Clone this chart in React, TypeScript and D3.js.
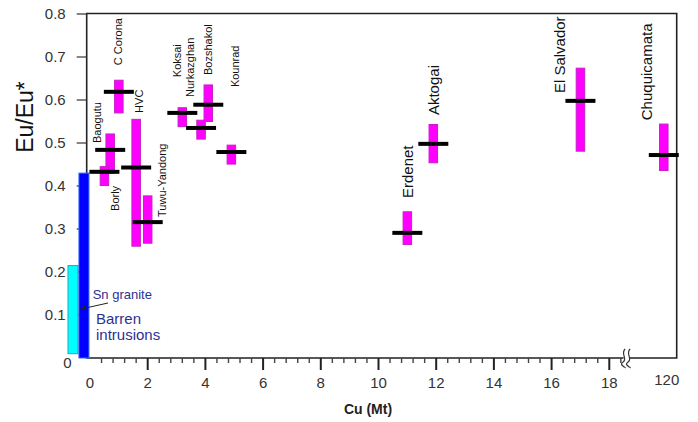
import * as d3 from "d3";

const deposits = ["Baogutu", "Borly", "C Corona", "HVC", "Tuwu-Yandong", "Koksai", "Nurkazghan", "Bozshakol", "Kounrad", "Erdenet", "Aktogai", "El Salvador", "Chuquicamata"];
const cuMt = [0.7, 0.5, 1.0, 1.6, 2.0, 3.2, 3.85, 4.1, 4.9, 11.0, 11.9, 17.0, 120];
const euMin = [0.43, 0.401, 0.57, 0.26, 0.267, 0.538, 0.509, 0.55, 0.451, 0.264, 0.454, 0.481, 0.436];
const euMax = [0.521, 0.445, 0.646, 0.555, 0.377, 0.582, 0.553, 0.635, 0.495, 0.34, 0.543, 0.674, 0.544];
const euMean = [0.484, 0.433, 0.619, 0.443, 0.316, 0.57, 0.535, 0.589, 0.479, 0.291, 0.498, 0.598, 0.472];

// barren intrusions drawn left of the axis
const refNames = ["Sn granite", "Barren intrusions"];
const refCu = [-0.59, -0.21];
const refMin = [0.01, 0];
const refMax = [0.215, 0.43];

const yTicks = [0.1, 0.2, 0.3, 0.4, 0.5, 0.6, 0.7, 0.8];
const xTicks = [0, 2, 4, 6, 8, 10, 12, 14, 16, 18];

// label placement: dx in px from the bar, bottom of the text at an Eu/Eu* level
const labelLayout = {
  "Baogutu": { dx: -13, at: 0.5, big: false },
  "Borly": { dx: 11, at: 0.342, big: false },
  "C Corona": { dx: -1, at: 0.681, big: false },
  "HVC": { dx: 3, at: 0.57, big: false },
  "Tuwu-Yandong": { dx: 14.5, at: 0.328, big: false },
  "Koksai": { dx: -5, at: 0.653, big: false },
  "Nurkazghan": { dx: -11, at: 0.607, big: false },
  "Bozshakol": { dx: 0, at: 0.658, big: false },
  "Kounrad": { dx: 4, at: 0.63, big: false },
  "Erdenet": { dx: 0, at: 0.372, big: true },
  "Aktogai": { dx: 0, at: 0.565, big: true },
  "El Salvador": { dx: -21, at: 0.616, big: true },
  "Chuquicamata": { dx: -17, at: 0.553, big: true },
};

const FONT = "'Liberation Sans', Arial, sans-serif";
const WIDTH = 698;
const HEIGHT = 422;
const LEFT = 86.7;
const RIGHT = 676.7;
const TOP = 13.5;
const BOTTOM = 358;

function EuChart() {
  const x = d3.scaleLinear().domain([0, 18.6, 120]).range([90, 626.6, 663.8]);
  const y = d3.scaleLinear().domain([0, 0.8]).range([BOTTOM, 14]);
  const fmt = d3.format('.1f');

  const data = deposits.map((name, i) => ({
    name, cu: cuMt[i], lo: euMin[i], hi: euMax[i], mean: euMean[i],
  }));
  const refs = refNames.map((n, i) => ({ n, cu: refCu[i], lo: refMin[i], hi: refMax[i] }));
  const refColors = [['#00ffff', '#22aabb'], ['#0000ff', '#3366ff']];

  // minor ticks every 0.4 Mt between the major ones
  const minor = d3.range(1, 47).map(i => +(i * 0.4).toFixed(1)).filter(v => Math.abs(v / 2 - Math.round(v / 2)) > 1e-6);

  const bx = x(18.6);
  const wave = (cx) => `M${cx + 1},${BOTTOM - 9} C${cx - 4},${BOTTOM - 4} ${cx + 4},${BOTTOM + 1} ${cx - 1},${BOTTOM + 4} S${cx + 2},${BOTTOM + 9} ${cx + 1},${BOTTOM + 10}`;

  const BAR_W = 8.5;
  const ink = '#2e3192';

  return (
    <svg width={WIDTH} height={HEIGHT} fontFamily={FONT}
      style={{ position: 'absolute', left: 0, top: 0, background: 'white' }}>
      {/* frame */}
      <path d={`M${LEFT},${BOTTOM}V${TOP}H${RIGHT}V${BOTTOM}Z`} fill="none" stroke="#222" strokeWidth={1.6} />

      {/* y axis ticks */}
      {yTicks.map(t => (
        <g key={t} transform={`translate(0,${y(t)})`}>
          <line x1={LEFT - 10} x2={LEFT} stroke="#333" strokeWidth={1.2} />
          <text x={LEFT - 21} dy="0.35em" textAnchor="end" fontSize={15} fill="#333">{fmt(t)}</text>
        </g>
      ))}
      <text x={67.5} y={y(0) + 10} textAnchor="middle" fontSize={15} fill="#333">0</text>

      {/* x axis ticks */}
      {minor.map(t => (
        <line key={t} x1={x(t)} x2={x(t)} y1={BOTTOM} y2={BOTTOM + 5} stroke="#444" strokeWidth={1.4} />
      ))}
      {xTicks.filter(t => t > 0).map(t => (
        <line key={t} x1={x(t)} x2={x(t)} y1={BOTTOM} y2={BOTTOM + 12} stroke="#222" strokeWidth={2} />
      ))}
      {xTicks.map(t => (
        <text key={t} x={x(t)} y={388} textAnchor="middle" fontSize={15} fill="#333">{t}</text>
      ))}
      <text x={x(120) + 3} y={385} textAnchor="middle" fontSize={15} fill="#333">120</text>

      {/* axis break */}
      <rect x={bx - 3} y={BOTTOM - 2} width={6} height={4} fill="white" />
      {[-2.5, 2.5].map(off => (
        <path key={off} d={wave(bx + off)} fill="none" stroke="#333" strokeWidth={1.2} />
      ))}

      {/* axis titles */}
      <text transform="translate(33,117) rotate(-90)" textAnchor="middle" fontSize={23} fill="#111">Eu/Eu*</text>
      <text x={368} y={414} textAnchor="middle" fontSize={14} fontWeight="bold" fill="#222">Cu (Mt)</text>

      {/* deposit ranges */}
      {data.map(d => (
        <rect key={d.name} x={x(d.cu) - BAR_W / 2} width={BAR_W} y={y(d.hi)} height={y(d.lo) - y(d.hi)}
          fill="#ff00ff" stroke="#c81ec8" strokeWidth={1} />
      ))}

      {/* barren intrusions */}
      {refs.map((d, i) => (
        <rect key={d.n} x={x(d.cu) - 5} width={10} y={y(d.hi)} height={y(d.lo) - y(d.hi)}
          fill={refColors[i][0]} stroke={refColors[i][1]} strokeWidth={1} />
      ))}

      {/* mean values */}
      {data.map(d => (
        <line key={d.name} x1={x(d.cu) - 15} x2={x(d.cu) + 15} y1={y(d.mean)} y2={y(d.mean)}
          stroke="#000" strokeWidth={4} />
      ))}

      {/* deposit labels */}
      {data.map(d => {
        const l = labelLayout[d.name];
        return (
          <text key={d.name} transform={`translate(${x(d.cu) + l.dx},${y(l.at)}) rotate(-90)`}
            dy="0.35em" fontSize={l.big ? 15 : 11} fill="#111">{d.name}</text>
        );
      })}

      {/* annotations */}
      <text x={92.7} y={299} fontSize={13} fill={ink}>{refNames[0]}</text>
      <line x1={108} y1={303} x2={81} y2={309} stroke="#222" strokeWidth={1} />
      <path d="M79,309.5 L85,305.5 L85.5,309.8 Z" fill="#222" />
      <text fontSize={15} fill={ink}>
        <tspan x={96} y={324}>Barren</tspan>
        <tspan x={96} y={340}>intrusions</tspan>
      </text>
    </svg>
  );
}

export default function App() {
  return <EuChart />;
}
